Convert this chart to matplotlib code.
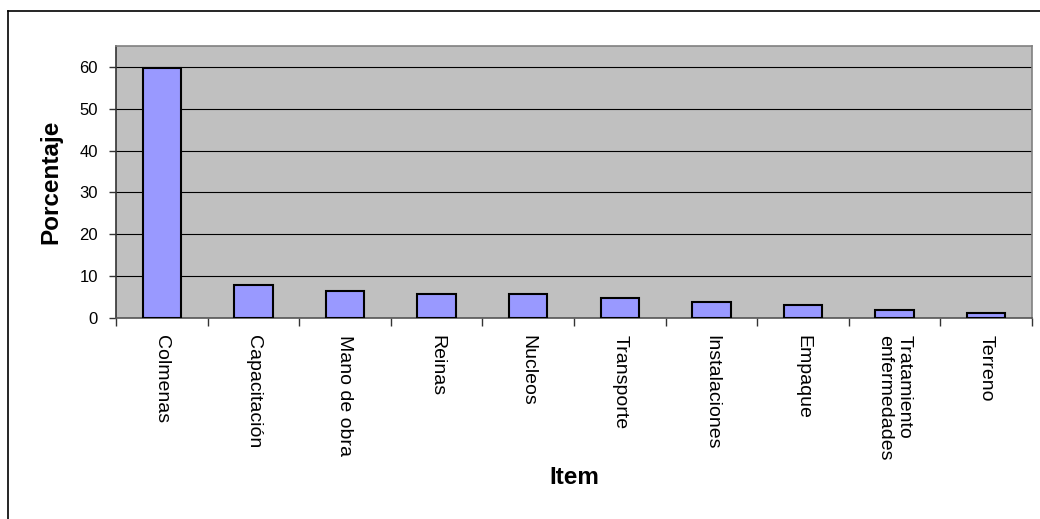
import matplotlib
matplotlib.use("Agg")
import matplotlib.pyplot as plt
from matplotlib.lines import Line2D

items = ["Colmenas", "Capacitación", "Mano de obra", "Reinas", "Nucleos",
         "Transporte", "Instalaciones", "Empaque",
         "Tratamiento\nenfermedades", "Terreno"]
porcentaje = [59.7, 7.8, 6.5, 5.7, 5.7, 4.8, 3.9, 3.0, 2.0, 1.2]
yticks = [0, 10, 20, 30, 40, 50, 60]

plt.rcParams['font.family'] = ['Liberation Sans', 'DejaVu Sans']

fig = plt.figure(figsize=(10.4, 5.19), dpi=100)
fig.patch.set_facecolor("white")

# outer chart border (only left and top visible in the picture)
fig.add_artist(Line2D([8/1040, 8/1040], [0, 1 - 11/519], color="black", lw=1.2))
fig.add_artist(Line2D([8/1040, 1], [1 - 11/519, 1 - 11/519], color="black", lw=1.2))

ax = fig.add_axes([116/1040, (519-318)/519, 916/1040, 272/519])
ax.set_facecolor("#C0C0C0")

x = range(len(items))
ax.bar(x, porcentaje, width=0.42, color="#9999FF", edgecolor="black",
       linewidth=1.5, zorder=3)

ax.set_xlim(-0.5, len(items) - 0.5)
ax.set_ylim(0, 65)
ax.set_yticks(yticks)
ax.grid(axis="y", color="black", linewidth=0.8, zorder=1)

ax.set_xticks(list(x), items, rotation=270, fontsize=14, multialignment="left")
ax.set_xticks([i + 0.5 for i in range(-1, len(items))], minor=True)
ax.tick_params(axis="x", which="major", length=0, pad=12)
ax.tick_params(axis="x", which="minor", length=6, width=1, color="#333333")
ax.tick_params(axis="y", length=5, width=1, pad=8, labelsize=12, color="#333333")

for side in ["top", "right"]:
    ax.spines[side].set_color("#808080")
ax.spines["left"].set_color("#333333")
ax.spines["bottom"].set_color("#555555")
for s in ax.spines.values():
    s.set_linewidth(1.2)

ax.set_ylabel("Porcentaje", fontsize=17.5, fontweight="bold", va="center")
ax.yaxis.set_label_coords(-0.071, 0.5)
ax.set_xlabel("Item", fontsize=17.5, fontweight="bold", va="center")
ax.xaxis.set_label_coords(0.5, -0.585)

fig.savefig("out.png", dpi=100)
